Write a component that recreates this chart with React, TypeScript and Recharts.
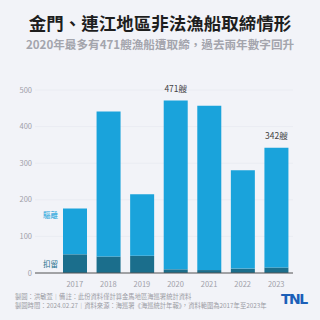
import React from "react";
import { BarChart, Bar, XAxis, YAxis, CartesianGrid, LabelList } from "recharts";

const years = ["2017", "2018", "2019", "2020", "2021", "2022", "2023"];
const detained = [51, 45, 47, 10, 8, 12, 15];
const expelled = [125, 396, 168, 461, 449, 269, 327];
const topLabels = ["", "", "", "471艘", "", "", "342艘"];
const yTicks = [0, 100, 200, 300, 400, 500];

const data = years.map((year, i) => ({
  year,
  detained: detained[i],
  expelled: expelled[i],
  top: topLabels[i],
}));

const FONT = "'Noto Sans CJK TC', 'Noto Sans', sans-serif";
const LIGHT = "#1aa3db";
const DARK = "#1b6e8c";

const sideLabel = (text: string, color: string, offset: "top" | "middle") => (props: any) => {
  const { x, y, height, index } = props;
  if (index !== 0) return null;
  const ty = offset === "top" ? y + 7 : y + height / 2 + 1;
  return (
    <text x={x - 5} y={ty} textAnchor="end" dominantBaseline="middle" fontSize={7.5} fill={color} fontFamily={FONT}>
      {text}
    </text>
  );
};

const topLabel = (props: any) => {
  const { x, y, width, index } = props;
  const t = topLabels[index];
  if (!t) return null;
  return (
    <text x={x + width / 2} y={y - 9} textAnchor="middle" fontSize={8.5} fill="#444" fontFamily={FONT}>
      {t}
    </text>
  );
};

export default function App() {
  return (
    <div
      style={{
        position: "absolute",
        left: 0,
        top: 0,
        width: 320,
        height: 320,
        background: "#f2f3f8",
        fontFamily: FONT,
        overflow: "hidden",
      }}
    >
      <div style={{ position: "absolute", top: 14, width: 320, textAlign: "center", fontSize: 17.5, fontWeight: 700, color: "#1e1e1e", lineHeight: "17px" }}>
        金門、連江地區非法漁船取締情形
      </div>
      <div style={{ position: "absolute", top: 38, width: 320, textAlign: "center", fontSize: 11.6, fontWeight: 700, color: "#a4a5ad", lineHeight: "12px" }}>
        2020年最多有471艘漁船遭取締，過去兩年數字回升
      </div>
      <BarChart
        width={320}
        height={320}
        data={data}
        margin={{ top: 90, right: 27, left: 0, bottom: 33 }}
        style={{ position: "absolute", left: 0, top: 0 }}
      >
        <CartesianGrid vertical={false} stroke="#eaecf2" />
        <XAxis
          dataKey="year"
          height={14}
          padding={{ left: 23, right: 0 }}
          tick={{ fontSize: 7.5, fill: "#a0a0a8", fontFamily: FONT }}
          tickLine={false}
          axisLine={{ stroke: "#555", strokeWidth: 1 }}
          tickMargin={3}
        />
        <YAxis
          width={35}
          domain={[0, 500]}
          ticks={yTicks}
          tick={{ fontSize: 7.5, fill: "#a0a0a8", fontFamily: FONT }}
          tickLine={false}
          tickSize={0}
          tickMargin={3}
          axisLine={false}
        />
        <Bar dataKey="detained" stackId="a" fill={DARK} barSize={24} isAnimationActive={false}>
          <LabelList dataKey="detained" content={sideLabel("扣留", DARK, "middle")} />
        </Bar>
        <Bar dataKey="expelled" stackId="a" fill={LIGHT} barSize={24} isAnimationActive={false}>
          <LabelList dataKey="expelled" content={sideLabel("驅離", LIGHT, "top")} />
          <LabelList dataKey="top" content={topLabel} />
        </Bar>
      </BarChart>
      <div style={{ position: "absolute", left: 15, top: 293, fontSize: 6.3, color: "#9a9ba3", lineHeight: "8.5px", whiteSpace: "nowrap" }}>
        <div>製圖：洪敏萱｜備註：此份資料僅計算金馬地區海巡署統計資料</div>
        <div>製圖時間：2024.02.27｜資料來源：海巡署《海巡統計年報》，資料範圍為2017年至2023年</div>
      </div>
      <div style={{ position: "absolute", left: 281, top: 291, fontSize: 14, fontWeight: 900, color: "#1c5fb8", fontFamily: "'DejaVu Sans', sans-serif", letterSpacing: -1.5, lineHeight: "16px" }}>
        TNL
      </div>
    </div>
  );
}
